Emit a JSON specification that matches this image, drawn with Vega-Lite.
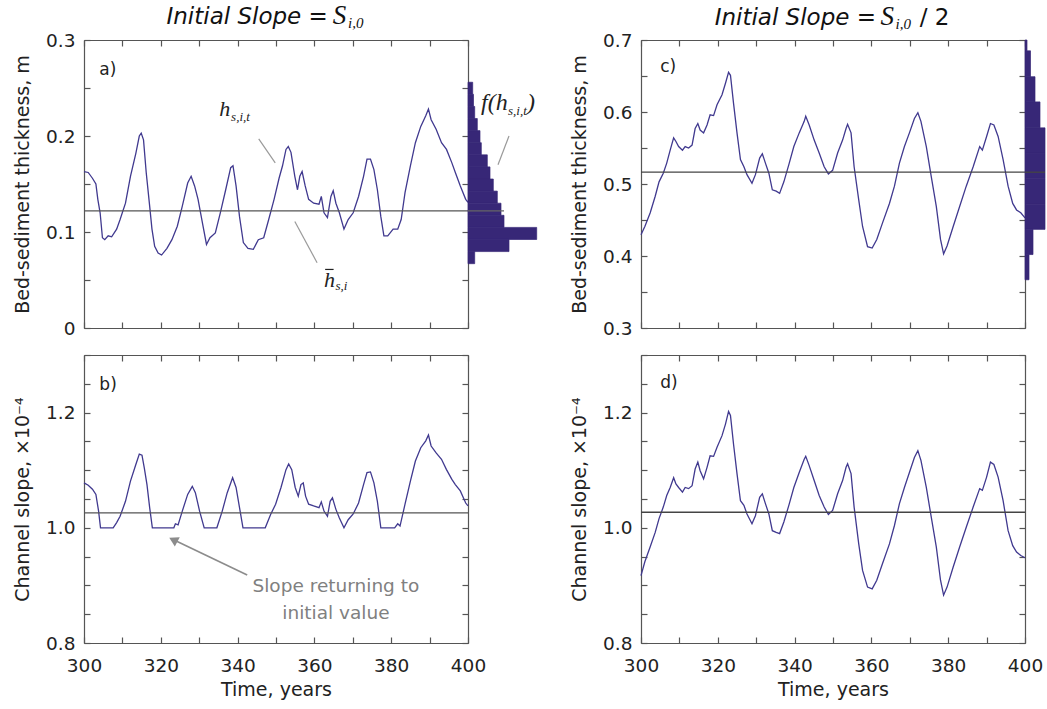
{
"$schema": "https://vega.github.io/schema/vega-lite/v6.json",
"background": "white",
"padding": {"left": 13, "top": 2, "right": 0, "bottom": 0},
"config": {
  "view": {"stroke": null},
  "axis": {"domainColor": "#555", "tickColor": "#555", "domainWidth": 1.2, "tickWidth": 1.2, "labelFont": "DejaVu Sans", "labelFontSize": 18.5, "labelColor": "#222", "titleFont": "DejaVu Sans", "titleFontSize": 19, "titleFontWeight": "normal", "titleColor": "#222", "grid": false, "labelFlush": false, "labelOverlap": false}
},
"datasets": {
  "ha": [
    {"t":300,"v":0.163},{"t":301.1,"v":0.162},{"t":302.2,"v":0.156},{"t":303.1,"v":0.150},{"t":303.6,"v":0.134},{"t":304.2,"v":0.120},{"t":304.8,"v":0.094},{"t":305.4,"v":0.092},{"t":306.3,"v":0.096},{"t":307.2,"v":0.095},{"t":308.5,"v":0.103},{"t":309.4,"v":0.113},{"t":310.8,"v":0.130},{"t":312.1,"v":0.158},{"t":313.5,"v":0.182},{"t":314.4,"v":0.200},{"t":314.9,"v":0.203},{"t":315.5,"v":0.196},{"t":316.2,"v":0.162},{"t":317.1,"v":0.127},{"t":317.7,"v":0.103},{"t":318.4,"v":0.085},{"t":319.3,"v":0.078},{"t":320.2,"v":0.076},{"t":321.6,"v":0.083},{"t":322.9,"v":0.092},{"t":324.3,"v":0.106},{"t":325.6,"v":0.127},{"t":327.0,"v":0.151},{"t":327.9,"v":0.158},{"t":328.8,"v":0.148},{"t":329.7,"v":0.134},{"t":331.0,"v":0.106},{"t":331.9,"v":0.087},{"t":332.8,"v":0.094},{"t":334.2,"v":0.099},{"t":335.5,"v":0.120},{"t":336.9,"v":0.144},{"t":338.2,"v":0.167},{"t":338.8,"v":0.169},{"t":339.6,"v":0.148},{"t":340.5,"v":0.116},{"t":341.5,"v":0.089},{"t":342.7,"v":0.083},{"t":344.1,"v":0.082},{"t":345.4,"v":0.092},{"t":346.8,"v":0.094},{"t":348.1,"v":0.113},{"t":349.5,"v":0.134},{"t":350.8,"v":0.156},{"t":351.7,"v":0.169},{"t":352.6,"v":0.186},{"t":353.2,"v":0.189},{"t":353.9,"v":0.183},{"t":354.9,"v":0.158},{"t":355.6,"v":0.144},{"t":356.2,"v":0.158},{"t":356.8,"v":0.163},{"t":357.6,"v":0.148},{"t":358.5,"v":0.134},{"t":359.8,"v":0.130},{"t":361.2,"v":0.129},{"t":361.8,"v":0.137},{"t":362.5,"v":0.120},{"t":363.4,"v":0.115},{"t":364.3,"v":0.137},{"t":364.9,"v":0.143},{"t":365.6,"v":0.130},{"t":366.5,"v":0.120},{"t":367.7,"v":0.103},{"t":368.8,"v":0.113},{"t":370.1,"v":0.120},{"t":371.5,"v":0.137},{"t":372.8,"v":0.158},{"t":373.7,"v":0.176},{"t":374.6,"v":0.176},{"t":375.5,"v":0.165},{"t":376.4,"v":0.144},{"t":377.3,"v":0.116},{"t":378.1,"v":0.096},{"t":379.1,"v":0.096},{"t":380.5,"v":0.103},{"t":381.7,"v":0.103},{"t":382.6,"v":0.113},{"t":383.6,"v":0.141},{"t":385.0,"v":0.169},{"t":386.3,"v":0.193},{"t":387.7,"v":0.210},{"t":389.0,"v":0.221},{"t":389.7,"v":0.228},{"t":390.4,"v":0.217},{"t":391.7,"v":0.207},{"t":393.1,"v":0.193},{"t":394.4,"v":0.186},{"t":395.8,"v":0.172},{"t":396.7,"v":0.162},{"t":398.0,"v":0.148},{"t":399.4,"v":0.134},{"t":400,"v":0.131}
  ],
  "sb": [
    {"t":300,"v":1.078},{"t":301.1,"v":1.074},{"t":302.2,"v":1.067},{"t":303.1,"v":1.058},{"t":303.8,"v":1.029},{"t":304.3,"v":1.0},{"t":307.6,"v":1.0},{"t":308.5,"v":1.009},{"t":309.4,"v":1.020},{"t":310.8,"v":1.046},{"t":312.1,"v":1.081},{"t":313.5,"v":1.110},{"t":314.4,"v":1.128},{"t":315.1,"v":1.126},{"t":315.7,"v":1.104},{"t":316.4,"v":1.075},{"t":317.1,"v":1.035},{"t":317.8,"v":1.0},{"t":323.4,"v":1.0},{"t":323.8,"v":1.007},{"t":324.5,"v":1.005},{"t":325.6,"v":1.029},{"t":327.0,"v":1.058},{"t":328.2,"v":1.072},{"t":329.0,"v":1.061},{"t":330.1,"v":1.029},{"t":331.3,"v":1.0},{"t":334.6,"v":1.0},{"t":336.0,"v":1.029},{"t":337.3,"v":1.061},{"t":338.7,"v":1.087},{"t":339.6,"v":1.070},{"t":340.5,"v":1.035},{"t":341.4,"v":1.0},{"t":347.2,"v":1.0},{"t":348.6,"v":1.023},{"t":349.9,"v":1.041},{"t":351.3,"v":1.070},{"t":352.6,"v":1.101},{"t":353.3,"v":1.111},{"t":354.1,"v":1.101},{"t":355.0,"v":1.070},{"t":355.8,"v":1.055},{"t":356.5,"v":1.075},{"t":357.1,"v":1.078},{"t":357.7,"v":1.055},{"t":358.5,"v":1.041},{"t":359.8,"v":1.038},{"t":361.2,"v":1.035},{"t":361.8,"v":1.045},{"t":362.5,"v":1.029},{"t":363.4,"v":1.020},{"t":364.1,"v":1.046},{"t":364.7,"v":1.052},{"t":365.6,"v":1.032},{"t":366.5,"v":1.017},{"t":367.7,"v":1.0},{"t":368.8,"v":1.014},{"t":370.1,"v":1.024},{"t":371.5,"v":1.043},{"t":372.8,"v":1.075},{"t":373.7,"v":1.096},{"t":374.6,"v":1.097},{"t":375.5,"v":1.078},{"t":376.4,"v":1.046},{"t":377.3,"v":1.0},{"t":380.9,"v":1.0},{"t":381.7,"v":1.007},{"t":382.3,"v":1.003},{"t":383.6,"v":1.041},{"t":385.0,"v":1.081},{"t":386.3,"v":1.116},{"t":387.7,"v":1.139},{"t":389.0,"v":1.151},{"t":389.7,"v":1.161},{"t":390.4,"v":1.142},{"t":391.7,"v":1.130},{"t":393.1,"v":1.119},{"t":394.4,"v":1.101},{"t":395.8,"v":1.084},{"t":396.7,"v":1.075},{"t":398.0,"v":1.064},{"t":399.4,"v":1.043},{"t":400,"v":1.038}
  ],
  "hc": [
    {"t":300,"v":0.4295},{"t":301.0,"v":0.441},{"t":302.4,"v":0.460},{"t":303.7,"v":0.483},{"t":304.7,"v":0.503},{"t":305.8,"v":0.515},{"t":306.7,"v":0.529},{"t":307.6,"v":0.547},{"t":308.5,"v":0.564},{"t":309.1,"v":0.559},{"t":309.8,"v":0.552},{"t":310.8,"v":0.547},{"t":311.5,"v":0.552},{"t":312.4,"v":0.550},{"t":313.3,"v":0.554},{"t":314.1,"v":0.577},{"t":314.8,"v":0.584},{"t":315.4,"v":0.575},{"t":316.3,"v":0.571},{"t":317.2,"v":0.582},{"t":318.0,"v":0.596},{"t":318.9,"v":0.595},{"t":319.8,"v":0.610},{"t":321.1,"v":0.624},{"t":322.0,"v":0.640},{"t":322.8,"v":0.655},{"t":323.3,"v":0.651},{"t":324.1,"v":0.612},{"t":325.0,"v":0.571},{"t":325.9,"v":0.534},{"t":326.8,"v":0.524},{"t":327.6,"v":0.513},{"t":328.9,"v":0.501},{"t":329.8,"v":0.513},{"t":330.9,"v":0.536},{"t":331.6,"v":0.542},{"t":332.4,"v":0.529},{"t":333.3,"v":0.515},{"t":334.2,"v":0.492},{"t":335.2,"v":0.490},{"t":336.1,"v":0.487},{"t":337.2,"v":0.503},{"t":338.5,"v":0.527},{"t":339.8,"v":0.552},{"t":341.2,"v":0.571},{"t":342.5,"v":0.587},{"t":342.9,"v":0.594},{"t":343.8,"v":0.582},{"t":345.1,"v":0.561},{"t":346.4,"v":0.543},{"t":347.7,"v":0.524},{"t":348.8,"v":0.514},{"t":349.9,"v":0.519},{"t":351.2,"v":0.543},{"t":352.5,"v":0.561},{"t":353.4,"v":0.577},{"t":353.8,"v":0.583},{"t":354.7,"v":0.571},{"t":355.5,"v":0.524},{"t":356.7,"v":0.478},{"t":357.7,"v":0.441},{"t":359.0,"v":0.413},{"t":360.2,"v":0.411},{"t":361.4,"v":0.423},{"t":362.9,"v":0.446},{"t":364.7,"v":0.473},{"t":366.0,"v":0.497},{"t":367.3,"v":0.529},{"t":368.6,"v":0.552},{"t":369.9,"v":0.571},{"t":371.2,"v":0.591},{"t":372.1,"v":0.599},{"t":372.9,"v":0.587},{"t":374.3,"v":0.552},{"t":375.6,"v":0.510},{"t":376.9,"v":0.469},{"t":378.0,"v":0.423},{"t":378.8,"v":0.403},{"t":379.7,"v":0.414},{"t":381.3,"v":0.441},{"t":383.0,"v":0.469},{"t":384.7,"v":0.497},{"t":386.5,"v":0.524},{"t":388.2,"v":0.552},{"t":388.9,"v":0.547},{"t":390.0,"v":0.566},{"t":391.0,"v":0.584},{"t":391.9,"v":0.582},{"t":393.0,"v":0.566},{"t":394.3,"v":0.534},{"t":395.6,"v":0.497},{"t":396.8,"v":0.473},{"t":397.8,"v":0.464},{"t":398.9,"v":0.460},{"t":400,"v":0.453}
  ],
  "sd": [
    {"t":300,"v":0.917},{"t":301.0,"v":0.941},{"t":302.4,"v":0.967},{"t":303.7,"v":0.992},{"t":304.7,"v":1.016},{"t":305.8,"v":1.036},{"t":306.7,"v":1.056},{"t":307.6,"v":1.070},{"t":308.5,"v":1.087},{"t":309.1,"v":1.076},{"t":309.8,"v":1.070},{"t":310.8,"v":1.062},{"t":311.5,"v":1.070},{"t":312.4,"v":1.068},{"t":313.3,"v":1.073},{"t":314.1,"v":1.102},{"t":314.8,"v":1.114},{"t":315.4,"v":1.099},{"t":316.3,"v":1.085},{"t":317.2,"v":1.105},{"t":318.0,"v":1.125},{"t":318.9,"v":1.124},{"t":319.8,"v":1.140},{"t":321.1,"v":1.160},{"t":322.0,"v":1.180},{"t":322.8,"v":1.202},{"t":323.3,"v":1.195},{"t":324.1,"v":1.145},{"t":325.0,"v":1.094},{"t":325.9,"v":1.047},{"t":326.8,"v":1.039},{"t":327.6,"v":1.024},{"t":328.9,"v":1.007},{"t":329.8,"v":1.021},{"t":330.9,"v":1.053},{"t":331.6,"v":1.059},{"t":332.4,"v":1.042},{"t":333.3,"v":1.024},{"t":334.2,"v":0.995},{"t":335.2,"v":0.992},{"t":336.1,"v":0.990},{"t":337.2,"v":1.010},{"t":338.5,"v":1.039},{"t":339.8,"v":1.070},{"t":341.2,"v":1.096},{"t":342.5,"v":1.119},{"t":342.9,"v":1.124},{"t":343.8,"v":1.108},{"t":345.1,"v":1.082},{"t":346.4,"v":1.056},{"t":347.7,"v":1.036},{"t":348.8,"v":1.023},{"t":349.9,"v":1.030},{"t":351.2,"v":1.059},{"t":352.5,"v":1.082},{"t":353.4,"v":1.105},{"t":353.8,"v":1.111},{"t":354.7,"v":1.094},{"t":355.5,"v":1.036},{"t":356.7,"v":0.972},{"t":357.7,"v":0.926},{"t":359.0,"v":0.897},{"t":360.2,"v":0.894},{"t":361.4,"v":0.909},{"t":362.9,"v":0.938},{"t":364.7,"v":0.972},{"t":366.0,"v":1.004},{"t":367.3,"v":1.042},{"t":368.6,"v":1.070},{"t":369.9,"v":1.096},{"t":371.2,"v":1.122},{"t":372.1,"v":1.134},{"t":372.9,"v":1.117},{"t":374.3,"v":1.070},{"t":375.6,"v":1.018},{"t":376.9,"v":0.967},{"t":378.0,"v":0.909},{"t":378.8,"v":0.883},{"t":379.7,"v":0.897},{"t":381.3,"v":0.932},{"t":383.0,"v":0.967},{"t":384.7,"v":1.001},{"t":386.5,"v":1.036},{"t":388.2,"v":1.068},{"t":388.9,"v":1.065},{"t":390.0,"v":1.088},{"t":391.0,"v":1.114},{"t":391.9,"v":1.110},{"t":393.0,"v":1.088},{"t":394.3,"v":1.047},{"t":395.6,"v":0.995},{"t":396.8,"v":0.969},{"t":397.8,"v":0.958},{"t":398.9,"v":0.952},{"t":400,"v":0.948}
  ],
  "histA": [
    {"lo":0.2434,"hi":0.256,"n":4.7},{"lo":0.2308,"hi":0.2434,"n":5.5},{"lo":0.2182,"hi":0.2308,"n":6.7},{"lo":0.2056,"hi":0.2182,"n":9.3},{"lo":0.193,"hi":0.2056,"n":12},{"lo":0.1804,"hi":0.193,"n":13.3},{"lo":0.1678,"hi":0.1804,"n":19.3},{"lo":0.1552,"hi":0.1678,"n":22},{"lo":0.1426,"hi":0.1552,"n":25.3},{"lo":0.130,"hi":0.1426,"n":29.3},{"lo":0.1174,"hi":0.130,"n":33},{"lo":0.1048,"hi":0.1174,"n":36},{"lo":0.0922,"hi":0.1048,"n":68.7},{"lo":0.0796,"hi":0.0922,"n":41},{"lo":0.067,"hi":0.0796,"n":6.7}
  ],
  "histC": [
    {"lo":0.685,"hi":0.70,"n":2},{"lo":0.649,"hi":0.685,"n":5.5},{"lo":0.614,"hi":0.649,"n":10},{"lo":0.578,"hi":0.614,"n":15},{"lo":0.543,"hi":0.578,"n":20},{"lo":0.508,"hi":0.543,"n":20},{"lo":0.472,"hi":0.508,"n":20},{"lo":0.437,"hi":0.472,"n":20},{"lo":0.402,"hi":0.437,"n":8},{"lo":0.367,"hi":0.402,"n":4}
  ]
},
"columns": 2,
"bounds": "flush",
"spacing": {"row": 27, "column": 173},
"concat": [
  {
    "width": 384, "height": 288,
    "resolve": {"scale": {"x": "independent"}, "axis": {"y": "independent"}},
    "layer": [
      {"data": {"name": "ha"}, "mark": {"type": "line", "color": "#40398f", "strokeWidth": 1.3},
       "encoding": {
         "x": {"field": "t", "type": "quantitative", "scale": {"domain": [300, 400], "nice": false}, "axis": {"orient": "bottom", "values": [300,310,320,330,340,350,360,370,380,390,400], "labels": false, "tickSize": -6, "title": null}},
         "y": {"field": "v", "type": "quantitative", "scale": {"domain": [0, 0.3], "nice": false, "zero": false}, "axis": {"orient": "left", "values": [0,0.05,0.1,0.15,0.2,0.25,0.3], "tickSize": -6, "labelPadding": 15, "labelExpr": "round(datum.value*20)%2==0 ? (datum.value==0 ? '0' : format(datum.value,'.1f')) : ''", "title": "Bed-sediment thickness, m", "titlePadding": 13}}}},
      {"data": {"values": [{"t": 304.0, "v": 0.2635, "s": "a)"}]}, "mark": {"type": "text", "font": "DejaVu Sans", "fontSize": 17, "align": "left", "baseline": "alphabetic", "color": "#222"},
       "encoding": {
         "x": {"field": "t", "type": "quantitative", "scale": {"domain": [300, 400], "nice": false}, "axis": {"orient": "top", "values": [300,310,320,330,340,350,360,370,380,390,400], "labels": false, "tickSize": -6, "title": null}},
         "y": {"field": "v", "type": "quantitative", "scale": {"domain": [0, 0.3], "nice": false, "zero": false}, "axis": {"orient": "right", "values": [0,0.05,0.1,0.15,0.2,0.25,0.3], "labels": false, "tickSize": -6, "title": null}},
         "text": {"field": "s"}}},
      {"data": {"values": [{"t": 363.5, "v": 0.3165, "s": "Initial Slope ="}]}, "mark": {"type": "text", "font": "DejaVu Sans", "fontStyle": "italic", "fontSize": 23, "align": "right", "baseline": "alphabetic", "color": "#111"},
       "encoding": {"x": {"field": "t", "type": "quantitative", "scale": {"domain": [300, 400], "nice": false}, "axis": null}, "y": {"field": "v", "type": "quantitative", "scale": {"domain": [0, 0.3], "nice": false, "zero": false}, "axis": null}, "text": {"field": "s"}}},
      {"data": {"values": [{"t": 364.8, "v": 0.3165, "s": "S"}]}, "mark": {"type": "text", "font": "Liberation Serif", "fontStyle": "italic", "fontSize": 27, "align": "left", "baseline": "alphabetic", "color": "#111"},
       "encoding": {"x": {"field": "t", "type": "quantitative", "scale": {"domain": [300, 400], "nice": false}, "axis": null}, "y": {"field": "v", "type": "quantitative", "scale": {"domain": [0, 0.3], "nice": false, "zero": false}, "axis": null}, "text": {"field": "s"}}},
      {"data": {"values": [{"t": 368.75, "v": 0.3123, "s": "i,0"}]}, "mark": {"type": "text", "font": "Liberation Serif", "fontStyle": "italic", "fontSize": 15, "align": "left", "baseline": "alphabetic", "color": "#111"},
       "encoding": {"x": {"field": "t", "type": "quantitative", "scale": {"domain": [300, 400], "nice": false}, "axis": null}, "y": {"field": "v", "type": "quantitative", "scale": {"domain": [0, 0.3], "nice": false, "zero": false}, "axis": null}, "text": {"field": "s"}}},
      {"data": {"values": [{"t": 335.2, "v": 0.2205, "s": "h"}, {"t": 362.5, "v": 0.0428, "s": "h"}]}, "mark": {"type": "text", "font": "Liberation Serif", "fontStyle": "italic", "fontSize": 22, "align": "left", "baseline": "alphabetic", "color": "#222"},
       "encoding": {"x": {"field": "t", "type": "quantitative", "scale": {"domain": [300, 400], "nice": false}, "axis": null}, "y": {"field": "v", "type": "quantitative", "scale": {"domain": [0, 0.3], "nice": false, "zero": false}, "axis": null}, "text": {"field": "s"}}},
      {"data": {"values": [{"t": 338.3, "v": 0.2155, "s": "s,i,t"}, {"t": 365.5, "v": 0.0393, "s": "s,i"}]}, "mark": {"type": "text", "font": "Liberation Serif", "fontStyle": "italic", "fontSize": 13, "align": "left", "baseline": "alphabetic", "color": "#222"},
       "encoding": {"x": {"field": "t", "type": "quantitative", "scale": {"domain": [300, 400], "nice": false}, "axis": null}, "y": {"field": "v", "type": "quantitative", "scale": {"domain": [0, 0.3], "nice": false, "zero": false}, "axis": null}, "text": {"field": "s"}}},
      {"data": {"values": [{"t": 345.5, "v": 0.197, "t2": 349.8, "v2": 0.172}, {"t": 354.9, "v": 0.111, "t2": 360.7, "v2": 0.068}]}, "mark": {"type": "rule", "color": "#9a9a9a", "strokeWidth": 1.2},
       "encoding": {"x": {"field": "t", "type": "quantitative", "scale": {"domain": [300, 400], "nice": false}, "axis": null}, "x2": {"field": "t2"}, "y": {"field": "v", "type": "quantitative", "scale": {"domain": [0, 0.3], "nice": false, "zero": false}, "axis": null}, "y2": {"field": "v2"}}},
      {"data": {"values": [{"t": 362.8, "t2": 365.0, "v": 0.061}]}, "mark": {"type": "rule", "color": "#222", "strokeWidth": 1.2},
       "encoding": {"x": {"field": "t", "type": "quantitative", "scale": {"domain": [300, 400], "nice": false}, "axis": null}, "x2": {"field": "t2"}, "y": {"field": "v", "type": "quantitative", "scale": {"domain": [0, 0.3], "nice": false, "zero": false}, "axis": null}}},
      {"data": {"values": [{"m": 0.122}]}, "mark": {"type": "rule", "color": "#555", "strokeWidth": 1.3},
       "encoding": {"y": {"field": "m", "type": "quantitative", "scale": {"domain": [0, 0.3], "nice": false, "zero": false}, "axis": null}}},
      {"data": {"name": "histA"}, "mark": {"type": "rect", "color": "#372777", "stroke": "#372777", "strokeWidth": 0.7},
       "encoding": {"x": {"field": "n", "type": "quantitative", "scale": {"domain": [0, 80], "range": [384, 464], "nice": false, "zero": false}, "axis": null}, "x2": {"datum": 0}, "y": {"field": "lo", "type": "quantitative", "scale": {"domain": [0, 0.3], "nice": false, "zero": false}, "axis": null}, "y2": {"field": "hi"}}},
      {"data": {"values": [{"c0": 0, "c1": 36, "m": 0.122}]}, "mark": {"type": "rule", "color": "#666", "strokeWidth": 1.3},
       "encoding": {"x": {"field": "c0", "type": "quantitative", "scale": {"domain": [0, 80], "range": [384, 464], "nice": false, "zero": false}, "axis": null}, "x2": {"field": "c1"}, "y": {"field": "m", "type": "quantitative", "scale": {"domain": [0, 0.3], "nice": false, "zero": false}, "axis": null}}},
      {"data": {"values": [{"c": 13, "v": 0.227, "s": "f(h"}, {"c": 59, "v": 0.227, "s": ")"}]}, "mark": {"type": "text", "font": "Liberation Serif", "fontStyle": "italic", "fontSize": 24, "align": "left", "baseline": "alphabetic", "color": "#222"},
       "encoding": {"x": {"field": "c", "type": "quantitative", "scale": {"domain": [0, 80], "range": [384, 464], "nice": false, "zero": false}, "axis": null}, "y": {"field": "v", "type": "quantitative", "scale": {"domain": [0, 0.3], "nice": false, "zero": false}, "axis": null}, "text": {"field": "s"}}},
      {"data": {"values": [{"c": 40, "v": 0.222, "s": "s,i,t"}]}, "mark": {"type": "text", "font": "Liberation Serif", "fontStyle": "italic", "fontSize": 13, "align": "left", "baseline": "alphabetic", "color": "#222"},
       "encoding": {"x": {"field": "c", "type": "quantitative", "scale": {"domain": [0, 80], "range": [384, 464], "nice": false, "zero": false}, "axis": null}, "y": {"field": "v", "type": "quantitative", "scale": {"domain": [0, 0.3], "nice": false, "zero": false}, "axis": null}, "text": {"field": "s"}}},
      {"data": {"values": [{"c": 30, "c2": 41, "v": 0.170, "v2": 0.200}]}, "mark": {"type": "rule", "color": "#9a9a9a", "strokeWidth": 1.2},
       "encoding": {"x": {"field": "c", "type": "quantitative", "scale": {"domain": [0, 80], "range": [384, 464], "nice": false, "zero": false}, "axis": null}, "x2": {"field": "c2"}, "y": {"field": "v", "type": "quantitative", "scale": {"domain": [0, 0.3], "nice": false, "zero": false}, "axis": null}, "y2": {"field": "v2"}}}
    ]
  },
  {
    "width": 384, "height": 288,
    "resolve": {"scale": {"x": "independent"}, "axis": {"y": "independent"}},
    "layer": [
      {"data": {"name": "hc"}, "mark": {"type": "line", "color": "#40398f", "strokeWidth": 1.3},
       "encoding": {
         "x": {"field": "t", "type": "quantitative", "scale": {"domain": [300, 400], "nice": false}, "axis": {"orient": "bottom", "values": [300,310,320,330,340,350,360,370,380,390,400], "labels": false, "tickSize": -6, "title": null}},
         "y": {"field": "v", "type": "quantitative", "scale": {"domain": [0.3, 0.7], "nice": false, "zero": false}, "axis": {"orient": "left", "values": [0.3,0.35,0.4,0.45,0.5,0.55,0.6,0.65,0.7], "tickSize": -6, "labelPadding": 15, "labelExpr": "round(datum.value*20)%2==0 ? format(datum.value,'.1f') : ''", "title": "Bed-sediment thickness, m", "titlePadding": 13}}}},
      {"data": {"values": [{"t": 305.0, "v": 0.6556, "s": "c)"}]}, "mark": {"type": "text", "font": "DejaVu Sans", "fontSize": 17, "align": "left", "baseline": "alphabetic", "color": "#222"},
       "encoding": {
         "x": {"field": "t", "type": "quantitative", "scale": {"domain": [300, 400], "nice": false}, "axis": {"orient": "top", "values": [300,310,320,330,340,350,360,370,380,390,400], "labels": false, "tickSize": -6, "title": null}},
         "y": {"field": "v", "type": "quantitative", "scale": {"domain": [0.3, 0.7], "nice": false, "zero": false}, "axis": {"orient": "right", "values": [0.3,0.35,0.4,0.45,0.5,0.55,0.6,0.65,0.7], "labels": false, "tickSize": -6, "title": null}},
         "text": {"field": "s"}}},
      {"data": {"values": [{"t": 361.2, "v": 0.7208, "s": "Initial Slope ="}]}, "mark": {"type": "text", "font": "DejaVu Sans", "fontStyle": "italic", "fontSize": 23, "align": "right", "baseline": "alphabetic", "color": "#111"},
       "encoding": {"x": {"field": "t", "type": "quantitative", "scale": {"domain": [300, 400], "nice": false}, "axis": null}, "y": {"field": "v", "type": "quantitative", "scale": {"domain": [0.3, 0.7], "nice": false, "zero": false}, "axis": null}, "text": {"field": "s"}}},
      {"data": {"values": [{"t": 362.4, "v": 0.7208, "s": "S"}]}, "mark": {"type": "text", "font": "Liberation Serif", "fontStyle": "italic", "fontSize": 27, "align": "left", "baseline": "alphabetic", "color": "#111"},
       "encoding": {"x": {"field": "t", "type": "quantitative", "scale": {"domain": [300, 400], "nice": false}, "axis": null}, "y": {"field": "v", "type": "quantitative", "scale": {"domain": [0.3, 0.7], "nice": false, "zero": false}, "axis": null}, "text": {"field": "s"}}},
      {"data": {"values": [{"t": 366.3, "v": 0.7153, "s": "i,0"}]}, "mark": {"type": "text", "font": "Liberation Serif", "fontStyle": "italic", "fontSize": 15, "align": "left", "baseline": "alphabetic", "color": "#111"},
       "encoding": {"x": {"field": "t", "type": "quantitative", "scale": {"domain": [300, 400], "nice": false}, "axis": null}, "y": {"field": "v", "type": "quantitative", "scale": {"domain": [0.3, 0.7], "nice": false, "zero": false}, "axis": null}, "text": {"field": "s"}}},
      {"data": {"values": [{"t": 372.6, "v": 0.7208, "s": "/ 2"}]}, "mark": {"type": "text", "font": "DejaVu Sans", "fontSize": 23, "align": "left", "baseline": "alphabetic", "color": "#111"},
       "encoding": {"x": {"field": "t", "type": "quantitative", "scale": {"domain": [300, 400], "nice": false}, "axis": null}, "y": {"field": "v", "type": "quantitative", "scale": {"domain": [0.3, 0.7], "nice": false, "zero": false}, "axis": null}, "text": {"field": "s"}}},
      {"data": {"values": [{"m": 0.5164}]}, "mark": {"type": "rule", "color": "#444", "strokeWidth": 1.3},
       "encoding": {"y": {"field": "m", "type": "quantitative", "scale": {"domain": [0.3, 0.7], "nice": false, "zero": false}, "axis": null}}},
      {"data": {"name": "histC"}, "mark": {"type": "rect", "color": "#372777", "stroke": "#372777", "strokeWidth": 0.7},
       "encoding": {"x": {"field": "n", "type": "quantitative", "scale": {"domain": [0, 20], "range": [384, 404], "nice": false, "zero": false}, "axis": null}, "x2": {"datum": 0}, "y": {"field": "lo", "type": "quantitative", "scale": {"domain": [0.3, 0.7], "nice": false, "zero": false}, "axis": null}, "y2": {"field": "hi"}}},
      {"data": {"values": [{"c0": 0, "c1": 20, "m": 0.5164}]}, "mark": {"type": "rule", "color": "#444", "strokeWidth": 1.3},
       "encoding": {"x": {"field": "c0", "type": "quantitative", "scale": {"domain": [0, 20], "range": [384, 404], "nice": false, "zero": false}, "axis": null}, "x2": {"field": "c1"}, "y": {"field": "m", "type": "quantitative", "scale": {"domain": [0.3, 0.7], "nice": false, "zero": false}, "axis": null}}}
    ]
  },
  {
    "width": 384, "height": 288,
    "resolve": {"scale": {"x": "independent"}, "axis": {"y": "independent"}},
    "layer": [
      {"data": {"name": "sb"}, "mark": {"type": "line", "color": "#40398f", "strokeWidth": 1.3},
       "encoding": {
         "x": {"field": "t", "type": "quantitative", "scale": {"domain": [300, 400], "nice": false}, "axis": {"orient": "bottom", "values": [300,310,320,330,340,350,360,370,380,390,400], "tickSize": -6, "labelPadding": 19, "labelExpr": "datum.value % 20 == 0 ? datum.label : ''", "title": "Time, years", "titlePadding": 6}},
         "y": {"field": "v", "type": "quantitative", "scale": {"domain": [0.8, 1.3], "nice": false, "zero": false}, "axis": {"orient": "left", "values": [0.8,0.85,0.9,0.95,1,1.05,1.1,1.15,1.2,1.25,1.3], "tickSize": -6, "labelPadding": 15, "labelExpr": "round(datum.value*20)%4==0 ? format(datum.value,'.1f') : ''", "title": "Channel slope, ×10⁻⁴", "titlePadding": 13}}}},
      {"data": {"values": [{"t": 304.0, "v": 1.239, "s": "b)"}]}, "mark": {"type": "text", "font": "DejaVu Sans", "fontSize": 17, "align": "left", "baseline": "alphabetic", "color": "#222"},
       "encoding": {
         "x": {"field": "t", "type": "quantitative", "scale": {"domain": [300, 400], "nice": false}, "axis": {"orient": "top", "values": [300,310,320,330,340,350,360,370,380,390,400], "labels": false, "tickSize": -6, "title": null}},
         "y": {"field": "v", "type": "quantitative", "scale": {"domain": [0.8, 1.3], "nice": false, "zero": false}, "axis": {"orient": "right", "values": [0.8,0.85,0.9,0.95,1,1.05,1.1,1.15,1.2,1.25,1.3], "labels": false, "tickSize": -6, "title": null}},
         "text": {"field": "s"}}},
      {"data": {"values": [{"m": 1.026}]}, "mark": {"type": "rule", "color": "#555", "strokeWidth": 1.3},
       "encoding": {"y": {"field": "m", "type": "quantitative", "scale": {"domain": [0.8, 1.3], "nice": false, "zero": false}, "axis": null}}},
      {"data": {"values": [{"t": 365.6, "v": 0.889, "s": "Slope returning to"}, {"t": 365.6, "v": 0.8417, "s": "initial value"}]}, "mark": {"type": "text", "font": "DejaVu Sans", "fontSize": 18.5, "align": "center", "baseline": "alphabetic", "color": "#808080"},
       "encoding": {"x": {"field": "t", "type": "quantitative", "scale": {"domain": [300, 400], "nice": false}, "axis": null}, "y": {"field": "v", "type": "quantitative", "scale": {"domain": [0.8, 1.3], "nice": false, "zero": false}, "axis": null}, "text": {"field": "s"}}},
      {"data": {"values": [{"t": 342.5, "v": 0.918, "t2": 324.0, "v2": 0.977}]}, "mark": {"type": "rule", "color": "#8c8c8c", "strokeWidth": 1.6},
       "encoding": {"x": {"field": "t", "type": "quantitative", "scale": {"domain": [300, 400], "nice": false}, "axis": null}, "x2": {"field": "t2"}, "y": {"field": "v", "type": "quantitative", "scale": {"domain": [0.8, 1.3], "nice": false, "zero": false}, "axis": null}, "y2": {"field": "v2"}}},
      {"data": {"values": [{"t": 323.6, "v": 0.978}]}, "mark": {"type": "point", "shape": "triangle", "filled": true, "angle": 298, "size": 110, "color": "#8c8c8c", "opacity": 1},
       "encoding": {"x": {"field": "t", "type": "quantitative", "scale": {"domain": [300, 400], "nice": false}, "axis": null}, "y": {"field": "v", "type": "quantitative", "scale": {"domain": [0.8, 1.3], "nice": false, "zero": false}, "axis": null}}}
    ]
  },
  {
    "width": 384, "height": 288,
    "resolve": {"scale": {"x": "independent"}, "axis": {"y": "independent"}},
    "layer": [
      {"data": {"name": "sd"}, "mark": {"type": "line", "color": "#40398f", "strokeWidth": 1.3},
       "encoding": {
         "x": {"field": "t", "type": "quantitative", "scale": {"domain": [300, 400], "nice": false}, "axis": {"orient": "bottom", "values": [300,310,320,330,340,350,360,370,380,390,400], "tickSize": -6, "labelPadding": 19, "labelExpr": "datum.value % 20 == 0 ? datum.label : ''", "title": "Time, years", "titlePadding": 6}},
         "y": {"field": "v", "type": "quantitative", "scale": {"domain": [0.8, 1.3], "nice": false, "zero": false}, "axis": {"orient": "left", "values": [0.8,0.85,0.9,0.95,1,1.05,1.1,1.15,1.2,1.25,1.3], "tickSize": -6, "labelPadding": 15, "labelExpr": "round(datum.value*20)%4==0 ? format(datum.value,'.1f') : ''", "title": "Channel slope, ×10⁻⁴", "titlePadding": 13}}}},
      {"data": {"values": [{"t": 305.0, "v": 1.243, "s": "d)"}]}, "mark": {"type": "text", "font": "DejaVu Sans", "fontSize": 17, "align": "left", "baseline": "alphabetic", "color": "#222"},
       "encoding": {
         "x": {"field": "t", "type": "quantitative", "scale": {"domain": [300, 400], "nice": false}, "axis": {"orient": "top", "values": [300,310,320,330,340,350,360,370,380,390,400], "labels": false, "tickSize": -6, "title": null}},
         "y": {"field": "v", "type": "quantitative", "scale": {"domain": [0.8, 1.3], "nice": false, "zero": false}, "axis": {"orient": "right", "values": [0.8,0.85,0.9,0.95,1,1.05,1.1,1.15,1.2,1.25,1.3], "labels": false, "tickSize": -6, "title": null}},
         "text": {"field": "s"}}},
      {"data": {"values": [{"m": 1.027}]}, "mark": {"type": "rule", "color": "#444", "strokeWidth": 1.3},
       "encoding": {"y": {"field": "m", "type": "quantitative", "scale": {"domain": [0.8, 1.3], "nice": false, "zero": false}, "axis": null}}}
    ]
  }
]
}
